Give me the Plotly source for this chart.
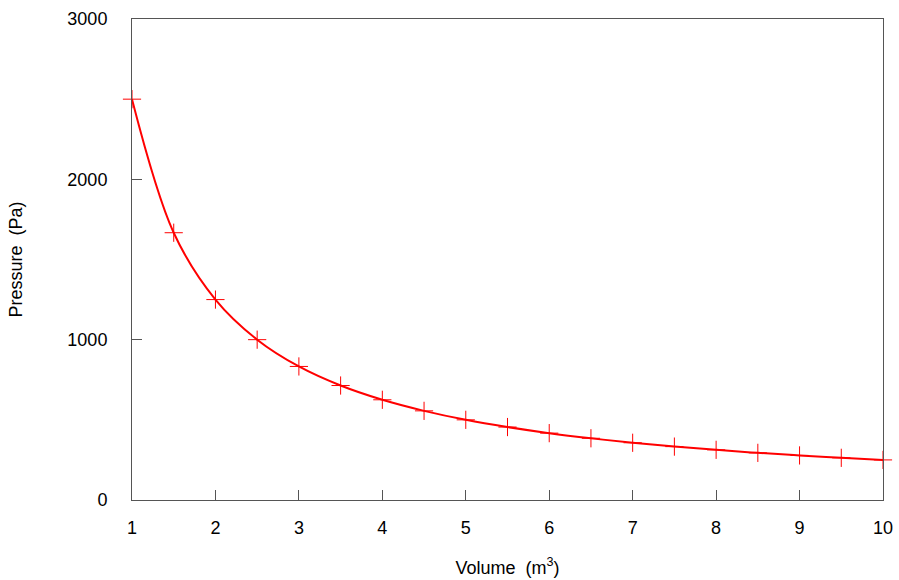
import plotly.graph_objects as go

volume = [1, 1.5, 2, 2.5, 3, 3.5, 4, 4.5, 5, 5.5, 6, 6.5, 7, 7.5, 8, 8.5, 9, 9.5, 10]
pressure = [2500, 1667, 1250, 1000, 833, 714, 625, 556, 500, 455, 417, 385, 357, 333, 313, 294, 278, 263, 250]
x_ticks = [1, 2, 3, 4, 5, 6, 7, 8, 9, 10]
y_ticks = [0, 1000, 2000, 3000]

font = dict(family="Liberation Sans, Arial, sans-serif", size=18, color="black")

fig = go.Figure()
fig.add_trace(go.Scatter(
    x=volume, y=pressure, mode="lines+markers",
    line=dict(color="#ff0000", width=2, shape="spline", smoothing=1.0),
    marker=dict(symbol="cross-thin-open", size=13, color="#ff0000",
                line=dict(color="#ff0000", width=1)),
    cliponaxis=False, showlegend=False,
))

axis_common = dict(
    showgrid=False, zeroline=False, showline=True, linecolor="#555555", linewidth=1,
    mirror=True, ticks="inside", ticklen=10, tickcolor="#555555", tickwidth=1,
    tickfont=font, automargin=False,
)
fig.update_layout(
    width=899, height=580,
    margin=dict(l=132, r=16, t=19, b=80),
    paper_bgcolor="white", plot_bgcolor="white",
    font=font,
    xaxis=dict(range=[1, 10], tickvals=x_ticks, ticklabelstandoff=11,
               title=dict(text="Volume  (m<sup>3</sup>)", font=font, standoff=24),
               **axis_common),
    yaxis=dict(range=[0, 3000], tickvals=y_ticks, ticklabelstandoff=20,
               title=dict(text="Pressure  (Pa)", font=font, standoff=40),
               **axis_common),
)
fig.write_html("out.html")
